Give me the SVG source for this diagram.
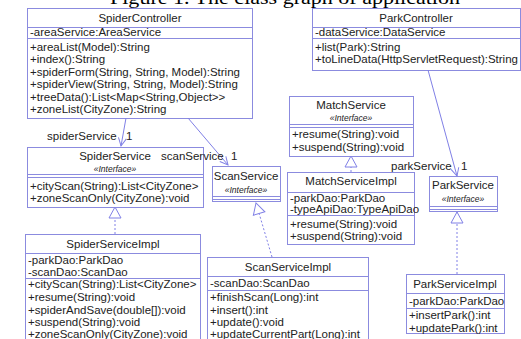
<svg xmlns="http://www.w3.org/2000/svg" width="521" height="339" viewBox="0 0 521 339">
<style>
.box{fill:#fff;stroke:#8b8bdf;stroke-width:1}
.ln{stroke:#8b8bdf;stroke-width:1;fill:none}
text{font-family:"Liberation Sans",Arial,sans-serif;font-size:11.5px;fill:#222}
.t{text-anchor:middle}
.st{text-anchor:middle;font-style:italic;font-size:8.5px}
.cap{font-family:"Liberation Serif","Times New Roman",serif;font-size:18px;fill:#000}
.assoc{stroke:#8080e6;stroke-width:1;fill:none}
.real{stroke:#8080e6;stroke-width:1;fill:none;stroke-dasharray:2,2}
</style>
<defs>
<marker id="open" viewBox="0 0 10 10" refX="9" refY="5" markerWidth="10" markerHeight="10" markerUnits="userSpaceOnUse" orient="auto">
<path d="M1,1 L9,5 L1,9" fill="none" stroke="#8080e6" stroke-width="1"/>
</marker>
<marker id="tri" viewBox="0 0 13 14" refX="12" refY="7" markerWidth="13" markerHeight="14" markerUnits="userSpaceOnUse" orient="auto">
<path d="M1,1 L12,7 L1,13 Z" fill="#fff" stroke="#8080e6" stroke-width="1" stroke-dasharray="none"/>
</marker>
</defs>
<rect width="521" height="339" fill="#fff"/>
<text class="cap" x="110" y="4" textLength="350" lengthAdjust="spacingAndGlyphs">Figure 1. The class graph of application</text>

<g id="SpiderController">
<rect class="box" x="27.5" y="8.5" width="225" height="110"/>
<path class="ln" d="M27.5,27.5 H252.5 M27.5,38.5 H252.5"/>
<text class="t" x="140" y="22">SpiderController</text>
<text x="30" y="36">-areaService:AreaService</text>
<text x="30" y="51">+areaList(Model):String</text>
<text x="30" y="63">+index():String</text>
<text x="30" y="76">+spiderForm(String, String, Model):String</text>
<text x="30" y="88">+spiderView(String, String, Model):String</text>
<text x="30" y="101">+treeData():List&lt;Map&lt;String,Object&gt;&gt;</text>
<text x="30" y="113">+zoneList(CityZone):String</text>
</g>

<g id="ParkController">
<rect class="box" x="312.5" y="8.5" width="208" height="62"/>
<path class="ln" d="M312.5,27.5 H520.5 M312.5,38.5 H520.5"/>
<text class="t" x="416" y="22">ParkController</text>
<text x="315" y="36">-dataService:DataService</text>
<text x="315" y="51">+list(Park):String</text>
<text x="315" y="63">+toLineData(HttpServletRequest):String</text>
</g>

<g id="MatchService">
<rect class="box" x="289.5" y="96.5" width="124" height="60"/>
<path class="ln" d="M289.5,124.5 H413.5 M289.5,127.5 H413.5"/>
<text class="t" x="351" y="109">MatchService</text>
<text class="st" x="351" y="121">«Interface»</text>
<text x="292" y="138">+resume(String):void</text>
<text x="292" y="151">+suspend(String):void</text>
</g>

<g id="MatchServiceImpl">
<rect class="box" x="287.5" y="172.5" width="127" height="72"/>
<path class="ln" d="M287.5,192.5 H414.5 M287.5,215.5 H414.5"/>
<text class="t" x="351" y="185">MatchServiceImpl</text>
<text x="290" y="202">-parkDao:ParkDao</text>
<text x="290" y="213">-typeApiDao:TypeApiDao</text>
<text x="290" y="228">+resume(String):void</text>
<text x="290" y="240">+suspend(String):void</text>
</g>

<g id="ParkService">
<rect class="box" x="429.5" y="176.5" width="68" height="35"/>
<path class="ln" d="M429.5,206.5 H497.5 M429.5,209.5 H497.5"/>
<text class="t" x="463" y="189">ParkService</text>
<text class="st" x="463" y="202">«Interface»</text>
</g>

<g id="ScanService">
<rect class="box" x="212.5" y="166.5" width="68" height="35"/>
<path class="ln" d="M212.5,196.5 H280.5 M212.5,199.5 H280.5"/>
<text class="t" x="246" y="180">ScanService</text>
<text class="st" x="246" y="193">«Interface»</text>
</g>

<g id="SpiderService">
<rect class="box" x="27.5" y="147.5" width="176" height="60"/>
<path class="ln" d="M27.5,174.5 H203.5 M27.5,177.5 H203.5"/>
<text class="t" x="115" y="160">SpiderService</text>
<text class="st" x="115" y="172">«Interface»</text>
<text x="30" y="190">+cityScan(String):List&lt;CityZone&gt;</text>
<text x="30" y="202">+zoneScanOnly(CityZone):void</text>
</g>

<g id="SpiderServiceImpl">
<rect class="box" x="25.5" y="234.5" width="175" height="112"/>
<path class="ln" d="M25.5,253.5 H200.5 M25.5,278.5 H200.5"/>
<text class="t" x="113" y="248">SpiderServiceImpl</text>
<text x="28" y="264">-parkDao:ParkDao</text>
<text x="28" y="276">-scanDao:ScanDao</text>
<text x="28" y="288">+cityScan(String):List&lt;CityZone&gt;</text>
<text x="28" y="301">+resume(String):void</text>
<text x="28" y="314">+spiderAndSave(double[]):void</text>
<text x="28" y="326">+suspend(String):void</text>
<text x="28" y="338">+zoneScanOnly(CityZone):void</text>
</g>

<g id="ScanServiceImpl">
<rect class="box" x="207.5" y="257.5" width="161" height="90"/>
<path class="ln" d="M207.5,276.5 H368.5 M207.5,290.5 H368.5"/>
<text class="t" x="288" y="271">ScanServiceImpl</text>
<text x="210" y="287">-scanDao:ScanDao</text>
<text x="210" y="301">+finishScan(Long):int</text>
<text x="210" y="314">+insert():int</text>
<text x="210" y="326">+update():void</text>
<text x="210" y="338">+updateCurrentPart(Long):int</text>
</g>

<g id="ParkServiceImpl">
<rect class="box" x="406.5" y="274.5" width="98" height="59"/>
<path class="ln" d="M406.5,293.5 H504.5 M406.5,308.5 H504.5"/>
<text class="t" x="455" y="288">ParkServiceImpl</text>
<text x="409" y="305">-parkDao:ParkDao</text>
<text x="409" y="319">+insertPark():int</text>
<text x="409" y="332">+updatePark():int</text>
</g>

<g id="connectors">
<path class="assoc" d="M126,118 L121,146" marker-end="url(#open)"/>
<path class="assoc" d="M188,118 L228,165" marker-end="url(#open)"/>
<path class="assoc" d="M428,70 L457,176" marker-end="url(#open)"/>
<path class="real" d="M115,234 L115,207" marker-end="url(#tri)"/>
<path class="real" d="M272,257 L256,203" marker-end="url(#tri)"/>
<path class="real" d="M351,172 L351,156" marker-end="url(#tri)"/>
<path class="real" d="M457,274 L457,212" marker-end="url(#tri)"/>
<text x="47" y="140">spiderService</text><text x="126" y="140">1</text>
<text x="161" y="160">scanService</text><text x="231" y="160">1</text>
<text x="391" y="170">parkService</text><text x="461" y="170">1</text>
</g>
</svg>
